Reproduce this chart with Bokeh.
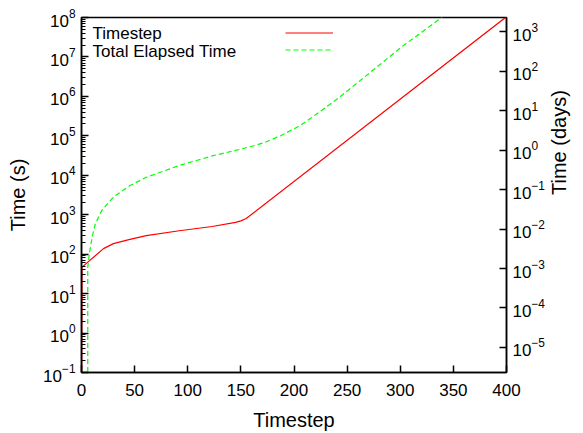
import math
from bokeh.plotting import figure
from bokeh.models import (Range1d, LogAxis, LogScale, FixedTicker, LogTickFormatter,
                          Legend, LegendItem, Label)
from bokeh.embed import file_html
from bokeh.resources import INLINE

# ---- data ----
timestep_x = [0, 0.5, 20.7, 30, 45.6, 61, 92, 123, 145, 150, 155, 400]
timestep_s = [0.01, 47, 138, 185, 237, 294, 393, 503, 640, 700, 800, 1.05e8]

elapsed_x = [5.9, 5.9, 7.4, 10, 13, 19.2, 30, 45.6, 61, 92, 123, 150, 163, 173, 188,
             204, 215, 241, 272, 303, 337, 345]
elapsed_s = [0.01, 47, 102, 270, 590, 1290, 2790, 5500, 8900, 17700, 31000, 46000,
             57000, 69000, 102000, 172000, 270000, 870000, 4.1e6, 1.95e7, 9.1e7, 1.4e8]

series_names = ["Timestep", "Total Elapsed Time"]
x_ticks = [0, 50, 100, 150, 200, 250, 300, 350, 400]
left_exponents = list(range(-1, 9))
right_exponents = list(range(-5, 4))
seconds_per_right_unit = 43200.0

FONT = "Liberation Sans"

p = figure(width=583, height=433, x_range=Range1d(0, 400), y_range=Range1d(0.1, 1e8),
           y_axis_type="log", output_backend="svg", toolbar_location=None,
           min_border_left=81, min_border_right=72, min_border_top=17, min_border_bottom=61)
p.xgrid.visible = False
p.ygrid.visible = False
p.outline_line_color = "black"
p.outline_line_width = 1.5
p.background_fill_color = "white"
p.border_fill_color = "white"

p.extra_y_ranges = {"days": Range1d(0.1 / seconds_per_right_unit, 1e8 / seconds_per_right_unit)}
p.extra_y_scales = {"days": LogScale()}
right = LogAxis(y_range_name="days",
                ticker=FixedTicker(ticks=[10.0 ** e for e in right_exponents]),
                formatter=LogTickFormatter())
p.add_layout(right, "right")

# outer right axis carries only the title "Time (days)"
right_title = LogAxis(y_range_name="days", ticker=FixedTicker(ticks=[]),
                      axis_label="Time (days)")
right_title.axis_line_color = None
right_title.major_tick_line_color = None
right_title.minor_tick_line_color = None
right_title.major_label_standoff = 0
right_title.axis_label_standoff = 11
right_title.axis_label_text_font = FONT
right_title.axis_label_text_font_size = "20px"
right_title.axis_label_text_font_style = "normal"
right_title.axis_label_text_color = "black"
try:
    right_title.axis_label_orientation = math.pi / 2
except Exception:
    pass
p.add_layout(right_title, "right")

left = p.left[0]
left.ticker = FixedTicker(ticks=[10.0 ** e for e in left_exponents],
                          minor_ticks=[m * 10.0 ** e for e in left_exponents[:-1] for m in range(2, 10)])
left.axis_label = "Time (s)"

bottom = p.below[0]
bottom.ticker = FixedTicker(ticks=x_ticks)
bottom.axis_label = "Timestep"

for ax in (left, bottom, right):
    ax.axis_line_color = "black"
    ax.axis_line_width = 1.5
    ax.major_tick_line_color = "black"
    ax.major_tick_line_width = 1.5
    ax.minor_tick_line_color = "black"
    ax.minor_tick_line_width = 1
    ax.major_tick_in = 7
    ax.major_tick_out = 0
    ax.minor_tick_in = 4
    ax.minor_tick_out = 0
    ax.major_label_text_font = FONT
    ax.major_label_text_font_size = "17px"
    ax.major_label_text_color = "black"
    ax.axis_label_text_font = FONT
    ax.axis_label_text_font_size = "20px"
    ax.axis_label_text_font_style = "normal"
    ax.axis_label_text_color = "black"

bottom.minor_tick_line_color = None
right.minor_tick_line_color = None
left.major_label_standoff = 6
left.axis_label_standoff = 11
bottom.major_label_standoff = 11
bottom.axis_label_standoff = 10
right.major_label_standoff = 6

r1 = p.line(timestep_x, timestep_s, line_color="#ff0000", line_width=1.2)
r2 = p.line(elapsed_x, elapsed_s, line_color="#00ff00", line_width=1.2, line_dash="5 3")

# gnuplot-style key: text on the left, line samples on the right
legend = Legend(items=[LegendItem(label=" ", renderers=[r1]),
                       LegendItem(label=" ", renderers=[r2])],
                location=(204, 314), glyph_width=48, glyph_height=17, label_height=17,
                label_standoff=0, spacing=0, padding=0, margin=0,
                border_line_color=None, background_fill_alpha=0,
                label_text_font=FONT, label_text_font_size="17px")
p.add_layout(legend)

for name, ypos in zip(series_names, [339, 321.5]):
    p.add_layout(Label(x=11, y=ypos, x_units="screen", y_units="screen", text=name,
                       text_font=FONT, text_font_size="17px", text_color="black",
                       text_baseline="middle", text_align="left"))

open("out.html", "w").write(file_html(p, INLINE))
